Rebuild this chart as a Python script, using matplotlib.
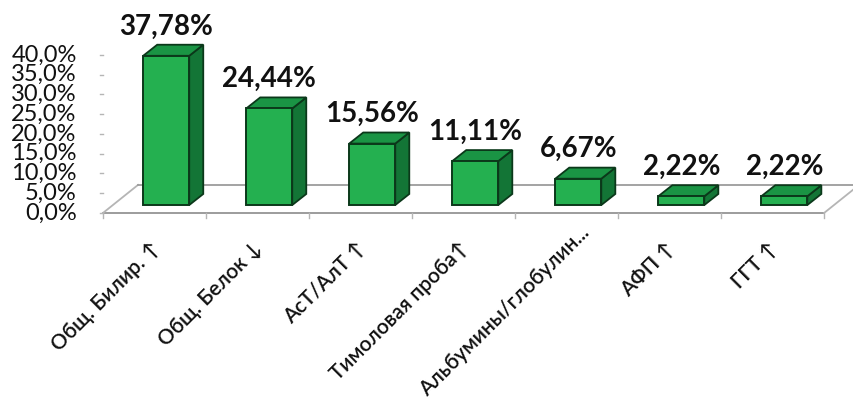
import numpy as np
import matplotlib.pyplot as plt
from matplotlib.patches import Polygon

#%% data
categories = ["Общ. Билир. ↑", "Общ. Белок ↓", "АсТ/АлТ ↑", "Тимоловая проба↑",
              "Альбумины/глобулин...", "АФП ↑", "ГГТ ↑"]
values = [37.78, 24.44, 15.56, 11.11, 6.67, 2.22, 2.22]
value_labels = ["37,78%", "24,44%", "15,56%", "11,11%", "6,67%", "2,22%", "2,22%"]
yticks = [0, 5, 10, 15, 20, 25, 30, 35, 40]
ytick_labels = ["0,0%", "5,0%", "10,0%", "15,0%", "20,0%", "25,0%", "30,0%", "35,0%", "40,0%"]

#%% 3d look settings (data units)
floor_dx, floor_dy = 0.34, 7.1     # depth of the floor
bar_x0, bar_w = 0.39, 0.447        # front face offset inside category, width
bar_y0 = 2.0                       # front face sits a bit into the floor
dep_dx, dep_dy = 0.136, 2.8        # bar depth
front_c = "#24b050"
side_c = "#137536"
top_c = "#1a9444"
edge_c = "#0b381a"
txt_c = "#111111"
fonts = ["Lato", "DejaVu Sans"]

fig = plt.figure(figsize=(8.54, 4.01), dpi=100)
ax = fig.add_axes([0, 0, 1, 1])
ax.set_xlim(-1.0, 7.29)
ax.set_ylim(-47.6, 53.9)
ax.axis("off")

n = len(values)
x = np.arange(n)

# floor
grey = "#9c9c9c"
ax.plot([0, n], [0, 0], color=grey, lw=1.4, zorder=1)
ax.plot([0, floor_dx], [0, floor_dy], color="#b5b5b5", lw=1.3, zorder=1)
ax.plot([n, n + floor_dx], [0, floor_dy], color="#b5b5b5", lw=1.3, zorder=1)
ax.plot([floor_dx, 7.29], [floor_dy, floor_dy], color=grey, lw=1.3, zorder=1)
for i in range(n + 1):
    ax.plot([i, i], [0, -1.3], color="#b5b5b5", lw=1, zorder=1)

# y ticks
for t, lab in zip(yticks, ytick_labels):
    ax.plot([-0.03, 0], [t, t], color="#b5b5b5", lw=1, zorder=1)
    ax.text(-0.255, t, lab, ha="right", va="center", fontsize=17,
            family=fonts, color=txt_c)

# bars
ax.bar(x + bar_x0, values, width=bar_w, bottom=bar_y0, align="edge",
       color=front_c, edgecolor=edge_c, linewidth=1.4, zorder=3)
for i, v in enumerate(values):
    xl = i + bar_x0
    xr = xl + bar_w
    yb = bar_y0
    yt = bar_y0 + v
    side = Polygon([(xr, yb), (xr + dep_dx, yb + dep_dy), (xr + dep_dx, yt + dep_dy), (xr, yt)],
                   closed=True, facecolor=side_c, edgecolor=edge_c, lw=1.3, zorder=2)
    top = Polygon([(xl, yt), (xl + dep_dx, yt + dep_dy), (xr + dep_dx, yt + dep_dy), (xr, yt)],
                  closed=True, facecolor=top_c, edgecolor=edge_c, lw=1.3, zorder=2)
    ax.add_patch(side)
    ax.add_patch(top)
    ax.text(xl + bar_w / 2, yt + dep_dy + 2.6, value_labels[i], ha="center", va="baseline",
            fontsize=20, fontweight="bold", family=fonts, color=txt_c)

# category labels
for i, lab in enumerate(categories):
    dx, dy = (0.69, -4.3) if i == 4 else (0.52, -8.2)
    ax.text(i + dx, dy, lab, ha="right", va="center", rotation=45,
            rotation_mode="anchor", fontsize=15, fontweight="semibold",
            family=fonts, color=txt_c)

fig.savefig("out.png", dpi=100, facecolor="white")
